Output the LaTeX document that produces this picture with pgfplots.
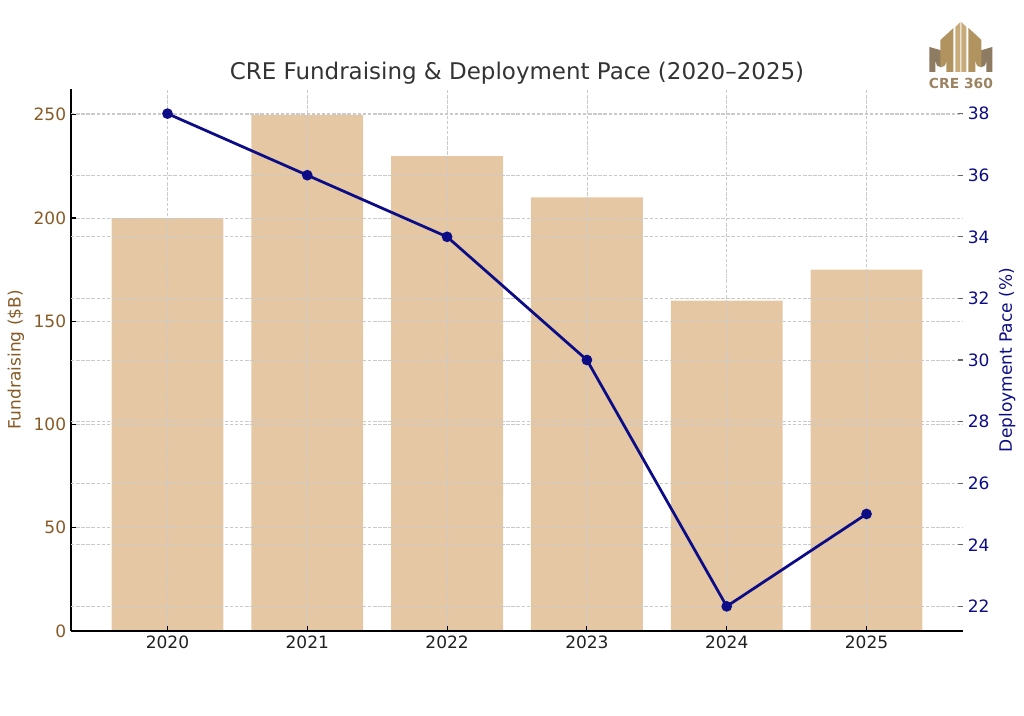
\documentclass[border=0pt]{standalone}
\usepackage{fontspec}
\setmainfont{DejaVu Sans}
\usepackage{pgfplots}
\pgfplotsset{compat=1.18}
\definecolor{barc}{HTML}{E5C8A3}
\definecolor{brownc}{HTML}{875A26}
\definecolor{navyc}{HTML}{0C0C86}
\definecolor{gridc}{HTML}{CACACA}
\definecolor{titlec}{HTML}{333333}
\definecolor{logod}{HTML}{8E7C62}
\definecolor{logot}{HTML}{B0935F}
\definecolor{logol}{HTML}{C7AB7A}
\definecolor{logotx}{HTML}{9C8463}
\begin{document}
\begin{tikzpicture}
\path[use as bounding box] (0,0) rectangle (10.24in,7.16in);
\pgfplotsset{
  common/.style={
    at={(0.71in,0.85in)}, anchor=south west,
    scale only axis, width=8.92in, height=5.42in,
    xmin=-0.69, xmax=5.69,
    tick align=inside, major tick length=3.5pt,
    grid style={gridc, dash pattern=on 2.5pt off 1.2pt, line width=0.5pt},
    tick label style={font=\fontsize{12.3}{14}\selectfont},
    label style={font=\fontsize{12.3}{14}\selectfont},
    /pgf/number format/assume math mode=true,
  }
}
\begin{axis}[common,
  ymin=0, ymax=262.5,
  axis y line*=left, axis x line*=bottom,
  axis line style={black, line width=0.8pt, -},
  xtick={0,1,2,3,4,5}, xticklabels={2020,2021,2022,2023,2024,2025},
  ytick={0,50,100,150,200,250},
  grid=major,
  axis on top,
  y tick label style={text=brownc},
  x tick label style={text=black!87},
  ylabel={Fundraising (\$B)}, ylabel style={text=brownc},
  tick style={black, line width=0.8pt},
]
\addplot[ybar, bar width=0.8, fill=barc, draw=none, bar shift=0] coordinates {
(0,200) (1,250) (2,230) (3,210) (4,160) (5,175)};
\end{axis}
\begin{axis}[common,
  ymin=21.2, ymax=38.8,
  axis y line*=right, axis x line=none,
  y axis line style={draw=none},
  ytick={22,24,26,28,30,32,34,36,38},
  ymajorgrids,
  y tick label style={text=navyc},
  ylabel={Deployment Pace (\%)}, ylabel style={text=navyc},
  tick style={black!60, line width=0.8pt},
]
\addplot[navyc, line width=2pt, mark=*, mark size=2.8pt, mark options={fill=navyc, draw=navyc}] coordinates {
(0,38) (1,36) (2,34) (3,30) (4,22) (5,25)};
\end{axis}
\node[text=titlec, font=\fontsize{16.6}{19}\selectfont] at (5.17in,6.43in) {CRE Fundraising \& Deployment Pace (2020–2025)};
\begin{scope}[shift={(0,7.16in)}, x=0.01in, y=-0.01in]
\fill[logod] (930,72)--(930,47)--(947,52)--(947,72)--cycle;
\fill[logod] (976,72)--(976,52)--(993,47)--(993,72)--cycle;
\fill[logot] (941,72)--(941,40)--(954,28)--(954,72)--cycle;
\fill[logot] (969,72)--(969,28)--(982,40)--(982,72)--cycle;
\fill[logol] (956,72)--(956,27)--(961,22)--(961,72)--cycle;
\fill[logol] (962,72)--(962,22)--(967,27)--(967,72)--cycle;
\fill[white] (936,72)--(936,62) arc[start angle=180, end angle=0, radius=5.5] -- (947,72)--cycle;
\fill[white] (976,72)--(976,62) arc[start angle=180, end angle=0, radius=5.5] -- (987,72)--cycle;
\node[text=logotx, font=\bfseries\fontsize{10}{11}\selectfont, inner sep=0] at (961.5,84) {CRE 360};
\end{scope}
\end{tikzpicture}
\end{document}
